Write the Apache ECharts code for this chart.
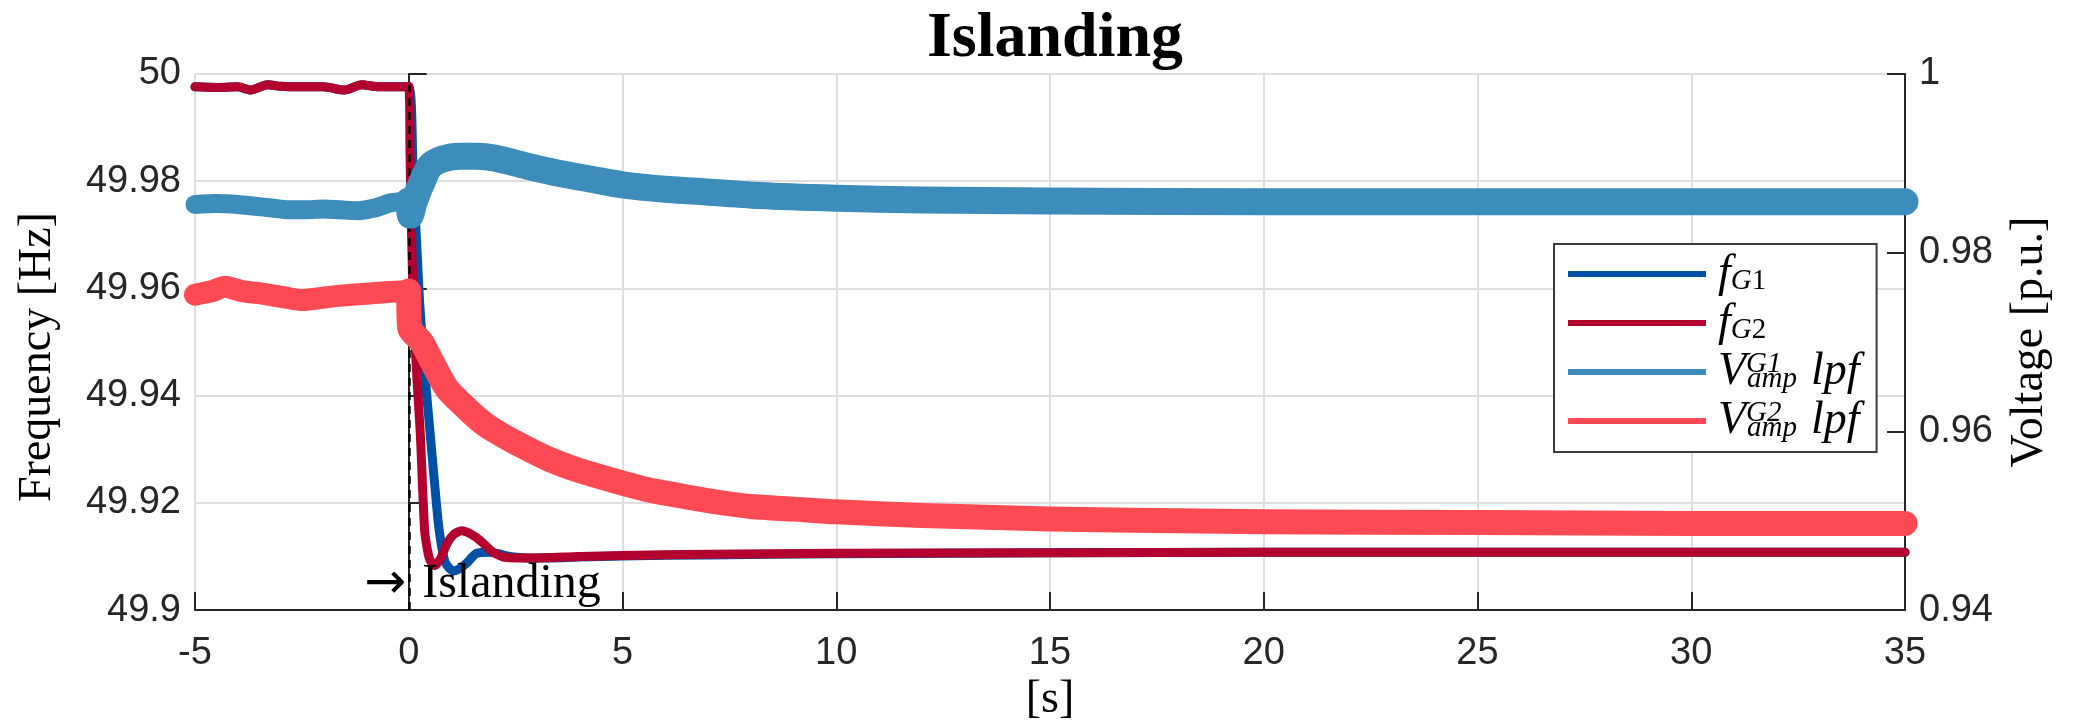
<!DOCTYPE html>
<html>
<head>
<meta charset="utf-8">
<title>Islanding</title>
<script src="https://cdn.jsdelivr.net/npm/echarts@6/dist/echarts.min.js"></script>
<style>
  html, body { margin: 0; padding: 0; background: #fff; }
  #chart { width: 2076px; height: 728px; }
</style>
</head>
<body>
<div id="chart"></div>
<script>
// axis ticks
var timeTicks = [-5, 0, 5, 10, 15, 20, 25, 30, 35];
var freqTicks = [49.9, 49.92, 49.94, 49.96, 49.98, 50];
var voltTicks = [0.94, 0.96, 0.98, 1];

// islanding event (dashed marker + annotation)
var eventTime = 0;
var eventTop = 49.998;

// frequency of G1 [Hz]
var tF1 = [-5, -4.5, -4, -3.7, -3.3, -3, -2.5, -2, -1.5, -1.1, -0.7, -0.3, 0, 0.1, 0.25, 0.4, 0.5, 0.6, 0.71, 0.85, 1.04, 1.2, 1.36, 1.59, 1.9, 2.3, 2.6, 3, 4, 5, 7, 10, 15, 20, 25, 30, 35];
var fG1 = [49.9976, 49.9975, 49.9976, 49.9970, 49.9980, 49.9977, 49.9976, 49.9976, 49.9970, 49.9980, 49.9976, 49.9976, 49.9976, 49.9825, 49.958, 49.942, 49.933, 49.924, 49.915, 49.909, 49.9073, 49.9078, 49.9088, 49.9106, 49.9108, 49.9101, 49.9098, 49.9097, 49.9099, 49.9101, 49.9103, 49.9105, 49.9107, 49.9108, 49.9108, 49.9108, 49.9108];

// frequency of G2 [Hz]
var tF2 = [-5, -4.5, -4, -3.7, -3.3, -3, -2.5, -2, -1.5, -1.1, -0.7, -0.3, 0, 0.03, 0.1, 0.2, 0.27, 0.37, 0.44, 0.5, 0.61, 0.75, 0.89, 1.05, 1.24, 1.45, 1.67, 1.97, 2.29, 2.84, 4, 5, 7, 10, 15, 20, 25, 30, 35];
var fG2 = [49.9976, 49.9975, 49.9976, 49.9970, 49.9980, 49.9977, 49.9976, 49.9976, 49.9970, 49.9980, 49.9976, 49.9976, 49.9977, 49.985, 49.958, 49.942, 49.933, 49.915, 49.9111, 49.9093, 49.9083, 49.9097, 49.9123, 49.9141, 49.9148, 49.9142, 49.9130, 49.9108, 49.9098, 49.9097, 49.9100, 49.9102, 49.9104, 49.9106, 49.9107, 49.9108, 49.9108, 49.9108, 49.9108];

// voltage amplitude G1 [p.u.], before and after islanding
var tV1pre = [-5, -4.5, -4, -3.6, -3.2, -2.8, -2.4, -2, -1.6, -1.2, -0.8, -0.4, 0];
var vG1pre = [0.9854, 0.9855, 0.9854, 0.9852, 0.9850, 0.9848, 0.9848, 0.9849, 0.9848, 0.9847, 0.9850, 0.9856, 0.9858];
var tV1post = [0, 0.04, 0.12, 0.3, 0.5, 0.8, 1.2, 1.6, 2.0, 2.76, 3.5, 4.3, 5.0, 6.0, 6.65, 8.2, 10, 12, 15, 20, 25, 30, 35];
var vG1post = [0.9858, 0.9842, 0.9856, 0.9878, 0.9897, 0.9905, 0.9908, 0.9908, 0.9906, 0.9897, 0.9889, 0.9882, 0.9876, 0.9871, 0.9869, 0.9864, 0.9861, 0.9859, 0.9858, 0.9857, 0.9857, 0.9857, 0.9857];

// voltage amplitude G2 [p.u.], before and after islanding
var tV2pre = [-5, -4.6, -4.3, -3.9, -3.4, -2.9, -2.5, -2.1, -1.6, -1.0, -0.5, 0];
var vG2pre = [0.9753, 0.9757, 0.9762, 0.9757, 0.9754, 0.9750, 0.9747, 0.9749, 0.9752, 0.9754, 0.9756, 0.9757];
var tV2post = [0, 0.02, 0.3, 0.5, 0.89, 1.28, 1.67, 2.0, 2.44, 3.23, 4.0, 4.78, 5.57, 6.35, 7.2, 8, 9, 10, 12, 15, 18, 20, 25, 30, 35];
var vG2post = [0.9757, 0.9716, 0.9700, 0.9682, 0.9648, 0.9629, 0.9612, 0.9601, 0.9589, 0.9570, 0.9556, 0.9545, 0.9535, 0.9528, 0.9521, 0.9516, 0.9513, 0.9510, 0.9506, 0.9502, 0.9500, 0.9499, 0.9498, 0.9497, 0.9497];

var colors = { fG1: '#0051a6', fG2: '#b3002e', VG1: '#3c8dbb', VG2: '#ff4a53' };
var SERIF = '"Liberation Serif", "DejaVu Serif", serif';
var SANS = '"Liberation Sans", Arial, sans-serif';
var AXIS = '#262626';
var GRID = '#dedede';

function pairs(t, v) {
  return t.map(function (x, i) { return [x, v[i]]; });
}
function step(ticks) {
  return Math.round((ticks[1] - ticks[0]) * 1e6) / 1e6;
}
function clean(v) {
  return String(parseFloat(v.toFixed(4)));
}

// legend labels with math-like sub/superscripts
var legendText = {
  fG1: '{g| }{it|f}{sbi|G}{sbn|1}',
  fG2: '{g| }{it|f}{sbi|G}{sbn|2}',
  VG1: '{g| }{it|V}{sup|G1}{sbi|amp}{s| }{it|lpf}',
  VG2: '{g| }{it|V}{sup|G2}{sbi|amp}{s| }{it|lpf}'
};

function lineSeries(name, t, v, axis, width, z) {
  return {
    name: name,
    type: 'line',
    yAxisIndex: axis,
    data: pairs(t, v),
    showSymbol: false,
    symbol: 'none',
    smooth: 0.25,
    z: z,
    itemStyle: { color: colors[name] },
    lineStyle: { color: colors[name], width: width, cap: 'round', join: 'round' },
    emphasis: { disabled: true }
  };
}

var chart = echarts.init(document.getElementById('chart'));

var sG1 = lineSeries('fG1', tF1, fG1, 0, 9, 2);
// dashed line at the islanding instant and its annotation
sG1.markLine = {
  silent: true,
  symbol: ['none', 'none'],
  label: { show: false },
  lineStyle: { color: '#000', width: 2.5, type: [8, 6] },
  data: [[{ coord: [eventTime, freqTicks[0]] }, { coord: [eventTime, eventTop] }]]
};
sG1.markPoint = {
  silent: true,
  symbol: 'circle',
  symbolSize: 1,
  itemStyle: { color: 'rgba(0,0,0,0)' },
  label: {
    show: true,
    formatter: '{a|\u2192}{s| }{t|Islanding}',
    position: [-44, -48],
    rich: {
      a: { fontFamily: '"DejaVu Sans", sans-serif', fontSize: 50, lineHeight: 46, color: '#000' },
      s: { width: 16, fontSize: 10 },
      t: { fontFamily: SERIF, fontSize: 48, lineHeight: 46, color: '#000' }
    }
  },
  data: [{ coord: [eventTime, freqTicks[0]] }]
};

chart.setOption({
  animation: false,
  backgroundColor: '#fff',
  title: {
    text: 'Islanding',
    left: 1050,
    top: 2,
    textAlign: 'center',
    textStyle: { fontFamily: SERIF, fontWeight: 'bold', fontSize: 64, color: '#000' }
  },
  grid: { left: 195, right: 171, top: 74, bottom: 115, containLabel: false },
  legend: {
    data: ['fG1', 'fG2', 'VG1', 'VG2'],
    orient: 'vertical',
    left: 1554,
    top: 244,
    icon: 'rect',
    itemWidth: 138,
    itemHeight: 6,
    itemGap: 3,
    padding: [7, 17, 8, 14],
    borderColor: '#3a3a3a',
    borderWidth: 2,
    backgroundColor: '#fff',
    selectedMode: false,
    formatter: function (name) { return legendText[name]; },
    textStyle: {
      color: '#000',
      rich: {
        g: { width: 7, fontSize: 10 },
        it: { fontFamily: SERIF, fontStyle: 'italic', fontSize: 46, lineHeight: 44, color: '#000' },
        sbi: { fontFamily: SERIF, fontStyle: 'italic', fontSize: 29, lineHeight: 28, verticalAlign: 'bottom', color: '#000' },
        sbn: { fontFamily: SERIF, fontSize: 29, lineHeight: 28, verticalAlign: 'bottom', color: '#000' },
        sup: { fontFamily: SERIF, fontStyle: 'italic', fontSize: 29, lineHeight: 28, verticalAlign: 'top', width: 1, color: '#000' },
        s: { width: 14, fontSize: 10 }
      }
    }
  },
  xAxis: {
    type: 'value',
    min: timeTicks[0],
    max: timeTicks[timeTicks.length - 1],
    interval: step(timeTicks),
    name: '[s]',
    nameLocation: 'middle',
    nameGap: 63,
    nameTextStyle: { fontFamily: SERIF, fontSize: 46, color: '#000' },
    axisLine: { show: true, onZero: false, lineStyle: { color: AXIS, width: 2 } },
    axisTick: { show: true, inside: true, length: 18, lineStyle: { color: AXIS, width: 2 } },
    axisLabel: { fontFamily: SANS, fontSize: 38, color: AXIS, margin: 24, formatter: clean },
    splitLine: { show: true, lineStyle: { color: GRID, width: 2 } }
  },
  yAxis: [
    {
      type: 'value',
      position: 'left',
      min: freqTicks[0],
      max: freqTicks[freqTicks.length - 1],
      interval: step(freqTicks),
      name: 'Frequency [Hz]',
      nameLocation: 'middle',
      nameGap: 134,
      nameTextStyle: { fontFamily: SERIF, fontSize: 46, color: '#000', padding: [0, 30, 0, 0] },
      axisLine: { show: true, lineStyle: { color: AXIS, width: 2 } },
      axisTick: { show: true, inside: true, length: 18, lineStyle: { color: AXIS, width: 2 } },
      axisLabel: { fontFamily: SANS, fontSize: 38, color: AXIS, margin: 14, formatter: clean },
      splitLine: { show: true, lineStyle: { color: GRID, width: 2 } }
    },
    {
      type: 'value',
      position: 'right',
      min: voltTicks[0],
      max: voltTicks[voltTicks.length - 1],
      interval: step(voltTicks),
      name: 'Voltage [p.u.]',
      nameLocation: 'middle',
      nameGap: 102,
      nameTextStyle: { fontFamily: SERIF, fontSize: 46, color: '#000' },
      axisLine: { show: true, lineStyle: { color: AXIS, width: 2 } },
      axisTick: { show: true, inside: true, length: 18, lineStyle: { color: AXIS, width: 2 } },
      axisLabel: { fontFamily: SANS, fontSize: 38, color: AXIS, margin: 14, formatter: clean },
      splitLine: { show: false }
    }
  ],
  series: [
    sG1,
    lineSeries('fG2', tF2, fG2, 0, 9, 3),
    lineSeries('VG1', tV1pre, vG1pre, 1, 19, 6),
    lineSeries('VG1', tV1post, vG1post, 1, 27, 6),
    lineSeries('VG2', tV2pre, vG2pre, 1, 22, 7),
    lineSeries('VG2', tV2post, vG2post, 1, 25, 7)
  ]
});
</script>
</body>
</html>
